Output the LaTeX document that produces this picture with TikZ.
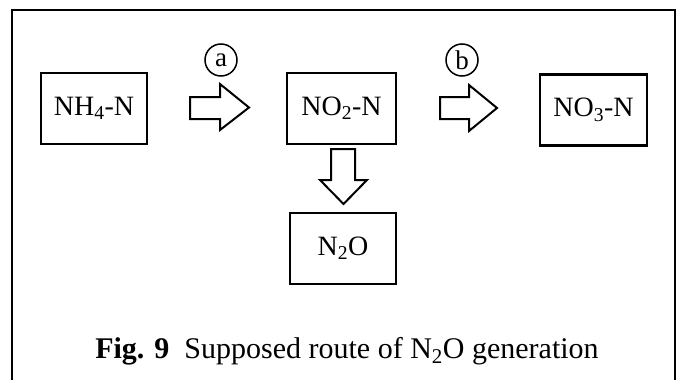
\documentclass[tikz,border=0pt]{standalone}
\usepackage{fontspec}
\setmainfont{Liberation Serif}
\begin{document}
\begin{tikzpicture}[x=1pt,y=-1pt,
  species/.style={draw,line width=2.6pt,minimum width=106pt,minimum height=71pt,
    inner sep=0pt,font=\fontsize{28}{30}\selectfont},
  stepmark/.style={draw,circle,line width=1.5pt,minimum size=32pt,inner sep=0pt,
    font=\fontsize{27}{28}\selectfont},
  blockarrow/.style={draw,line width=2pt,line join=miter}]
\useasboundingbox (0,0) rectangle (678,380);

% outer frame (open at the bottom)
\draw[line width=2.8pt] (12,395) -- (12,10) -- (675,10) -- (675,395);

% nitrogen species
\node[species] (nh4) at (94,108.5) {NH\textsubscript{4}-N};
\node[species,minimum width=109pt] (no2) at (341.5,108.5) {NO\textsubscript{2}-N};
\node[species,minimum width=107pt] (no3) at (593.5,110) {NO\textsubscript{3}-N};
\node[species] (n2o) at (343,248.5) {N\textsubscript{2}O};

% step labels
\node[stepmark] (a) at (221,60) {a};
\node[stepmark] (b) at (462,60) {b};

% block arrows between the species
\draw[blockarrow] (190,97) -- (220,97) -- (220,84) -- (249,107.5) -- (220,130)
  -- (220,119) -- (190,119) -- cycle;
\draw[blockarrow] (440,97) -- (469,97) -- (469,85) -- (497,108) -- (469,131)
  -- (469,119) -- (440,119) -- cycle;
\draw[blockarrow] (331,149) -- (355,149) -- (355,180) -- (367,180) -- (343.5,204)
  -- (320,180) -- (331,180) -- cycle;

% caption
\node[anchor=base,font=\fontsize{30}{32}\selectfont] (cap) at (347,358)
  {\textbf{Fig. 9}\hspace{0.5em}Supposed route of N\textsubscript{2}O generation};
\end{tikzpicture}
\end{document}
